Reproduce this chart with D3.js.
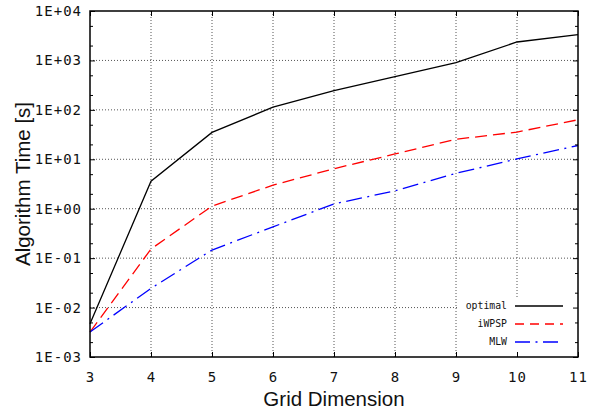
<!DOCTYPE html>
<html><head><meta charset="utf-8">
<script src="https://cdn.jsdelivr.net/npm/d3@7"></script>
<style>body{margin:0;background:#fff}svg{display:block}</style>
</head><body>
<script>
const dims = [3, 4, 5, 6, 7, 8, 9, 10, 11];
const optimal = [0.0047, 3.6, 35, 113, 244, 470, 900, 2360, 3320];
const iwpsp = [0.0032, 0.153, 1.13, 3.0, 6.45, 12.8, 25.4, 35.5, 63];
const mlw = [0.0032, 0.0245, 0.146, 0.43, 1.25, 2.3, 5.2, 10.2, 19];
const seriesNames = ["optimal", "iWPSP", "MLW"];
const yTickExps = [-3, -2, -1, 0, 1, 2, 3, 4];
const xTicks = [3, 4, 5, 6, 7, 8, 9, 10, 11];

const W = 602, H = 415;
const m = {l: 90, r: 24, t: 11, b: 58};
const svg = d3.select("body").append("svg").attr("width", W).attr("height", H);
const x = d3.scaleLinear().domain([3, 11]).range([m.l, W - m.r]);
const y = d3.scaleLog().domain([1e-3, 1e4]).range([H - m.b, m.t]);
const x0 = m.l, x1 = W - m.r, y0 = H - m.b, y1 = m.t;

const mono = "'DejaVu Sans Mono', monospace";
const fmt = e => "1E" + (e < 0 ? "-" : "+") + String(Math.abs(e)).padStart(2, "0");

// grid
const g = svg.append("g");
g.selectAll(".gy").data(yTickExps.slice(1, -1)).enter().append("line")
  .attr("x1", x0).attr("x2", x1).attr("y1", e => y(Math.pow(10, e))).attr("y2", e => y(Math.pow(10, e)))
  .attr("stroke", "#555").attr("stroke-width", 1).attr("stroke-dasharray", "1,2");
g.selectAll(".gx").data(xTicks.slice(1, -1)).enter().append("line")
  .attr("x1", d => x(d)).attr("x2", d => x(d)).attr("y1", y0).attr("y2", y1)
  .attr("stroke", "#555").attr("stroke-width", 1).attr("stroke-dasharray", "1,2");

// lines
const series = [
  {name: seriesNames[0], vals: optimal, color: "#000", dash: null, ldash: null},
  {name: seriesNames[1], vals: iwpsp, color: "#f00", dash: "12,6", ldash: "9,6"},
  {name: seriesNames[2], vals: mlw, color: "#00f", dash: "16,5.5,2,5.5", ldash: "15,5.5,2,5.5"}
];
const line = d3.line().x(d => x(d[0])).y(d => y(d[1]));
series.forEach(s => {
  svg.append("path").datum(dims.map((d, i) => [d, s.vals[i]]))
    .attr("d", line).attr("fill", "none").attr("stroke", s.color)
    .attr("stroke-width", 1.3).attr("stroke-dasharray", s.dash);
});

// legend box
svg.append("rect").attr("x", 458).attr("y", 297).attr("width", x1 - 458).attr("height", y0 - 297).attr("fill", "#fff");
const leg = svg.append("g");
series.forEach((s, i) => {
  const ly = 306 + i * 18;
  leg.append("text").attr("x", 507).attr("y", ly).attr("dy", "0.35em").attr("text-anchor", "end")
    .attr("font-family", mono).attr("font-size", 9.8).attr("fill", "#111").text(s.name);
  leg.append("line").attr("x1", 515).attr("x2", 563).attr("y1", ly).attr("y2", ly)
    .attr("stroke", s.color).attr("stroke-width", 1.3).attr("stroke-dasharray", s.ldash);
});

// axes with ticks (inward)
const minor = [];
yTickExps.slice(0, -1).forEach(e => [2, 5].forEach(k => minor.push(k * Math.pow(10, e))));
const majorY = yTickExps.map(e => Math.pow(10, e));
const axL = d3.axisLeft(y).tickValues(majorY).tickFormat("").tickSizeInner(-5).tickSizeOuter(0);
const axR = d3.axisRight(y).tickValues(majorY).tickFormat("").tickSizeInner(-5).tickSizeOuter(0);
const axLm = d3.axisLeft(y).tickValues(minor).tickFormat("").tickSizeInner(-3).tickSizeOuter(0);
const axRm = d3.axisRight(y).tickValues(minor).tickFormat("").tickSizeInner(-3).tickSizeOuter(0);
const axB = d3.axisBottom(x).tickValues(xTicks).tickFormat("").tickSizeInner(-5).tickSizeOuter(0);
const axT = d3.axisTop(x).tickValues(xTicks).tickFormat("").tickSizeInner(-5).tickSizeOuter(0);
[[axL, `translate(${x0},0)`], [axLm, `translate(${x0},0)`], [axR, `translate(${x1},0)`], [axRm, `translate(${x1},0)`],
 [axB, `translate(0,${y0})`], [axT, `translate(0,${y1})`]].forEach(([a, t]) => {
  const gg = svg.append("g").attr("transform", t).call(a);
  gg.select(".domain").remove();
  gg.selectAll("line").attr("stroke", "#000").attr("stroke-width", 1);
});
svg.append("rect").attr("x", x0).attr("y", y1).attr("width", x1 - x0).attr("height", y0 - y1)
  .attr("fill", "none").attr("stroke", "#000").attr("stroke-width", 1.5);

// tick labels
svg.selectAll(".yl").data(yTickExps).enter().append("text")
  .attr("x", 82).attr("y", e => y(Math.pow(10, e))).attr("dy", "0.36em").attr("text-anchor", "end")
  .attr("font-family", mono).attr("font-size", 14).attr("letter-spacing", 1).attr("fill", "#111").text(fmt);
svg.selectAll(".xl").data(xTicks).enter().append("text")
  .attr("x", d => x(d) + 0.5).attr("y", 382).attr("text-anchor", "middle")
  .attr("font-family", mono).attr("font-size", 14).attr("letter-spacing", 1).attr("fill", "#111").text(d => d);

// titles
svg.append("text").attr("x", (x0 + x1) / 2).attr("y", 406).attr("text-anchor", "middle")
  .attr("font-family", "'Liberation Sans', Arial, sans-serif").attr("font-size", 20.5).attr("fill", "#111").text("Grid Dimension");
svg.append("text").attr("transform", `translate(30,${(y0 + y1) / 2}) rotate(-90)`).attr("text-anchor", "middle")
  .attr("font-family", "'Liberation Sans', Arial, sans-serif").attr("font-size", 20.5).attr("fill", "#111").text("Algorithm Time [s]");
</script>
</body></html>
